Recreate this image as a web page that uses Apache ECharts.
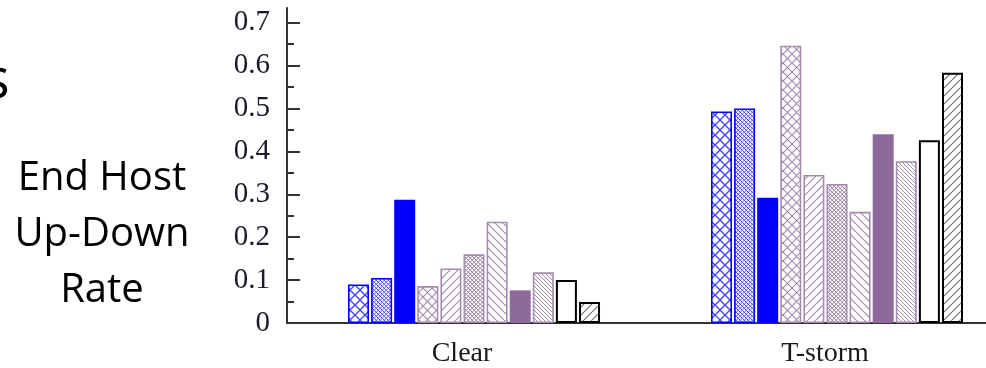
<!DOCTYPE html>
<html>
<head>
<meta charset="utf-8">
<script src="https://cdn.jsdelivr.net/npm/echarts@6/dist/echarts.min.js"></script>
<style>
html,body{margin:0;padding:0;background:#fff;}
#main{width:986px;height:368px;}
</style>
</head>
<body>
<div id="main"></div>
<script>
// ---- data ----
var categories = ['Clear', 'T-storm'];
var clearValues  = [0.090, 0.105, 0.287, 0.086, 0.127, 0.160, 0.236, 0.076, 0.118, 0.100, 0.049];
var tstormValues = [0.493, 0.500, 0.292, 0.646, 0.345, 0.324, 0.259, 0.440, 0.377, 0.426, 0.583];
var yMajorTicks = [0, 0.1, 0.2, 0.3, 0.4, 0.5, 0.6, 0.7];
var yMinorTicks = [0.05, 0.15, 0.25, 0.35, 0.45, 0.55, 0.65];
var yTickLabels = ['0', '0.1', '0.2', '0.3', '0.4', '0.5', '0.6', '0.7'];
var sideLabel = 'End Host\nUp-Down\nRate';

// ---- patterns ----
function hatch(color, s, dirs, lw) {
  var c = document.createElement('canvas');
  c.width = s; c.height = s;
  var g = c.getContext('2d');
  g.fillStyle = '#fff';
  g.fillRect(0, 0, s, s);
  g.strokeStyle = color;
  g.lineWidth = lw;
  dirs.forEach(function (d) {
    for (var k = -1; k <= 1; k++) {
      g.beginPath();
      if (d === '/') { g.moveTo(k * s, s); g.lineTo(k * s + s, 0); }
      else { g.moveTo(k * s, 0); g.lineTo(k * s + s, s); }
      g.stroke();
    }
  });
  return { image: c, repeat: 'repeat' };
}
var BLUE = '#0000ff', PURP = '#8e6a9c', PURPL = '#a68bb0', BLK = '#000';
var styles = [
  { color: hatch('#4444ff', 10, ['/', '\\'], 1.3), borderColor: BLUE, borderWidth: 1.6 },
  { color: hatch('#5050ff', 4.5, ['/', '\\'], 1.0), borderColor: BLUE, borderWidth: 1.6 },
  { color: BLUE, borderColor: BLUE, borderWidth: 0 },
  { color: hatch(PURPL, 9, ['/', '\\'], 1.2), borderColor: PURPL, borderWidth: 1.6 },
  { color: hatch(PURPL, 8, ['/'], 1.2), borderColor: PURPL, borderWidth: 1.6 },
  { color: hatch('#9a7fa6', 4.5, ['/', '\\'], 1.0), borderColor: PURPL, borderWidth: 1.6 },
  { color: hatch(PURPL, 8, ['\\'], 1.2), borderColor: PURPL, borderWidth: 1.6 },
  { color: PURP, borderColor: PURP, borderWidth: 0 },
  { color: hatch(PURPL, 4, ['\\'], 1.0), borderColor: PURPL, borderWidth: 1.6 },
  { color: '#fff', borderColor: BLK, borderWidth: 2 },
  { color: hatch('#777', 8, ['/'], 1.2), borderColor: BLK, borderWidth: 2 }
];

var series = styles.map(function (st, i) {
  return {
    type: 'bar',
    xAxisIndex: 0, yAxisIndex: 0,
    barWidth: 21,
    barGap: '10%',
    itemStyle: st,
    silent: true,
    data: [[0, clearValues[i]], [1, tstormValues[i]]]
  };
});

var labelFont = 'Liberation Serif, Times New Roman, serif';
var chart = echarts.init(document.getElementById('main'), null, { renderer: 'canvas' });
chart.setOption({
  animation: false,
  grid: { left: 287, right: 0, top: 8, bottom: 43 },
  xAxis: {
    type: 'value',
    min: -0.5152, max: 1.4105,
    axisLine: { show: true, onZero: false, lineStyle: { color: '#333', width: 2 } },
    axisTick: { show: false },
    splitLine: { show: false },
    axisLabel: {
      customValues: [0, 1],
      formatter: function (v) { return categories[Math.round(v)]; },
      fontFamily: labelFont, fontSize: 28, color: '#1a1a1a',
      margin: 17, padding: [0, 24, 0, 0]
    }
  },
  yAxis: [{
    type: 'value', min: 0, max: 0.734,
    axisLine: { show: true, onZero: false, lineStyle: { color: '#333', width: 2 } },
    axisTick: { show: true, inside: true, length: 13, customValues: yMajorTicks, lineStyle: { color: '#333', width: 2 } },
    splitLine: { show: false },
    axisLabel: {
      customValues: yMajorTicks,
      formatter: function (v) { return yTickLabels[Math.round(v * 10)]; },
      fontFamily: labelFont, fontSize: 29, color: '#1a1a2a', margin: 17
    }
  }, {
    type: 'value', min: 0, max: 0.734, position: 'left',
    axisLine: { show: false, onZero: false },
    axisTick: { show: true, inside: true, length: 7, customValues: yMinorTicks, lineStyle: { color: '#333', width: 2 } },
    splitLine: { show: false },
    axisLabel: { show: false }
  }],
  graphic: [{
    type: 'text', x: 102, y: 151,
    style: { text: sideLabel, font: '40px "Open Sans"', fill: '#000', align: 'center', verticalAlign: 'top', lineHeight: 56 }
  }, {
    type: 'text', x: -17, y: 82,
    style: { text: 's', font: '56px "Open Sans"', fill: '#000', align: 'left', verticalAlign: 'middle' }
  }],
  series: series
});
</script>
</body>
</html>
